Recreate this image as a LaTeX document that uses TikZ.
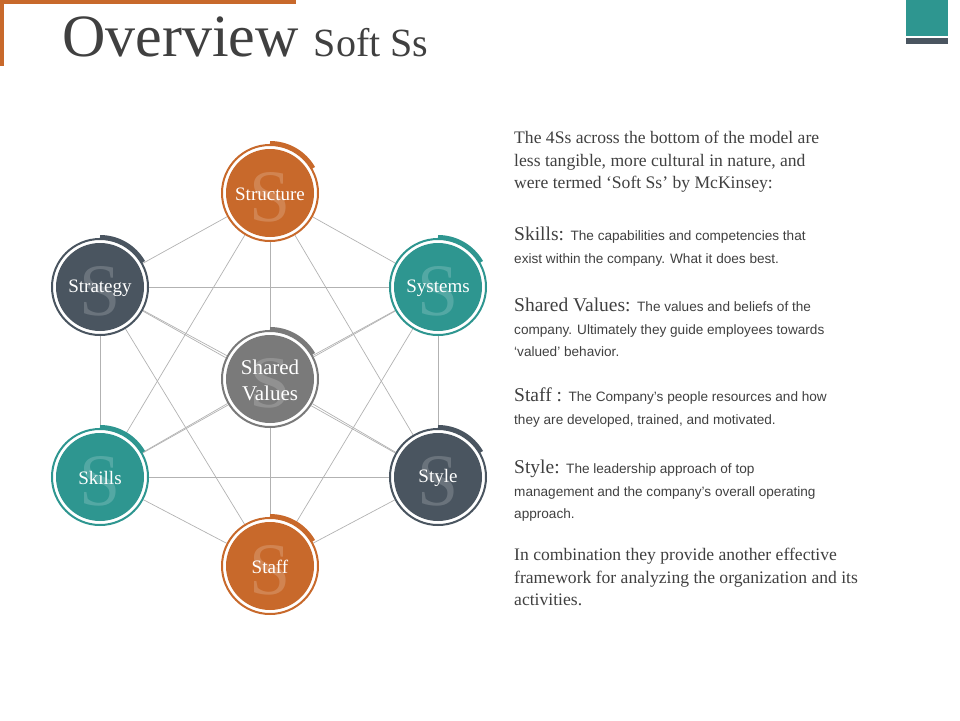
\documentclass[tikz,border=0pt]{standalone}
\usepackage{fontspec}
\setmainfont{Liberation Serif}
\setsansfont{Liberation Sans}
\definecolor{org}{HTML}{C8692B}
\definecolor{slate}{HTML}{4A5560}
\definecolor{teal}{HTML}{2E9690}
\definecolor{gry}{HTML}{7A7A7A}
\definecolor{txt}{HTML}{404040}
\newcommand{\sx}{\sffamily\fontsize{13.6}{20}\selectfont}
\newcommand{\hd}{\fontsize{19.5}{20}\selectfont}
\tikzset{
  conn/.style={draw=black!30, line width=0.7pt},
  para/.style={anchor=north west, align=left, inner sep=0pt, text=txt, font=\fontsize{17.6}{22.5}\selectfont},
}
\usetikzlibrary{calc}
\newcommand{\sball}[5]{% name, x, y, color, label
  \fill[white] (#2,#3) circle (49);
  \draw[#4, line width=2pt] (#2,#3) circle (48);
  \draw[#4, line width=4pt] ($(#2,#3)+(-90:50)$) arc (-90:-30:50);
  \fill[#4] (#2,#3) circle (44);
  \node[text=white, opacity=0.18, font=\fontsize{74}{74}\selectfont] at (#2,#3+4) {S};
  \node[text=white, align=center, font=\fontsize{19}{26}\selectfont] (#1) at (#2,#3+1) {#5};
}
\begin{document}
\begin{tikzpicture}[x=1pt,y=-1pt]
\useasboundingbox (0,0) rectangle (960,720);
\fill[org] (0,0) rectangle (296,4);
\fill[org] (0,0) rectangle (4,66);
\fill[teal] (906,0) rectangle (948,36);
\fill[slate] (906,38) rectangle (948,44);
\node[anchor=base west, text=txt, inner sep=0pt] (title) at (62,56) {\fontsize{60}{60}\selectfont Overview \fontsize{40}{40}\selectfont Soft Ss};
\coordinate (A) at (270,193);
\coordinate (B) at (100,287);
\coordinate (C) at (438,287);
\coordinate (D) at (270,379);
\coordinate (E) at (100,477);
\coordinate (F) at (438,477);
\coordinate (G) at (270,566);
\foreach \p/\q in {A/B,A/C,A/D,A/E,A/F,A/G,B/C,B/D,B/E,B/F,B/G,C/D,C/E,C/F,C/G,D/E,D/F,D/G,E/F,E/G,F/G}
  \draw[conn] (\p) -- (\q);
\sball{structure}{270}{193}{org}{Structure}
\sball{strategy}{100}{287}{slate}{Strategy}
\sball{systems}{438}{287}{teal}{Systems}
\sball{shared}{270}{379}{gry}{\fontsize{21}{29}\selectfont Shared\\\fontsize{21}{29}\selectfont Values}
\sball{skills}{100}{477}{teal}{Skills}
\sball{style}{438}{477}{slate}{Style}
\sball{staff}{270}{566}{org}{Staff}
\node[para] (p1) at (514,131) {The 4Ss across the bottom of the model are\\less tangible, more cultural in nature, and\\were termed ‘Soft Ss’ by McKinsey:};
\node[para] (p2) at (514,227) {\hd Skills: {\sx The capabilities and competencies that}\\{\sx exist within the company. What it does best.}};
\node[para] (p3) at (514,298) {\hd Shared Values: {\sx The values and beliefs of the}\\{\sx company. Ultimately they guide employees towards}\\{\sx ‘valued’ behavior.}};
\node[para] (p4) at (514,388) {\hd Staff : {\sx The Company’s people resources and how}\\{\sx they are developed, trained, and motivated.}};
\node[para] (p5) at (514,460) {\hd Style: {\sx The leadership approach of top}\\{\sx management and the company’s overall operating}\\{\sx approach.}};
\node[para] (p6) at (514,548) {In combination they provide another effective\\framework for analyzing the organization and its\\activities.};
\end{tikzpicture}
\end{document}
